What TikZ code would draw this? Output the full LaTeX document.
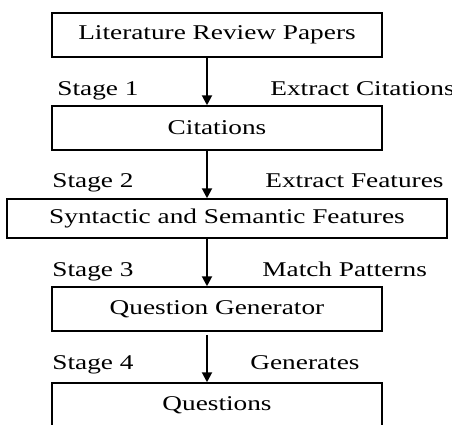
\documentclass[tikz,border=0pt]{standalone}
\usepackage{fontspec}
\setmainfont[FakeStretch=1.3]{Liberation Serif}
\usetikzlibrary{arrows.meta,positioning}

\begin{document}
\begin{tikzpicture}[
    x=0.5pt, y=-0.5pt,
    font=\fontsize{10.5}{12}\selectfont,
    stagebox/.style={rectangle, draw=black, line width=0.75pt,
      minimum width=165pt, minimum height=22pt, inner sep=0pt, align=center},
    lbl/.style={anchor=base west, inner sep=0pt},
    arr/.style={-{Triangle[length=5pt,width=5pt]}, line width=1pt}
  ]
    \useasboundingbox (0,0) rectangle (452,425);
    \coordinate (ax) at (207,0);

    \node[stagebox] (papers) at (217,35) {Literature Review Papers};
    \node[stagebox] (cites) at (217,128) {Citations};
    \node[stagebox, minimum width=220pt, minimum height=19.5pt] (feats) at (227,218.5) {Syntactic and Semantic Features};
    \node[stagebox] (qgen) at (217,309) {Question Generator};
    \node[stagebox] (quest) at (217,405) {Questions};

    \node[lbl] (s1) at (57,95) {Stage 1};
    \node[lbl] (t1) at (270,95) {Extract Citations};
    \node[lbl] (s2) at (52,187) {Stage 2};
    \node[lbl] (t2) at (265,187) {Extract Features};
    \node[lbl] (s3) at (52,276) {Stage 3};
    \node[lbl] (t3) at (262,276) {Match Patterns};
    \node[lbl] (s4) at (52,369) {Stage 4};
    \node[lbl] (t4) at (250,369) {Generates};

    \draw[arr] (papers.south -| ax) -- (cites.north -| ax);
    \draw[arr] (cites.south -| ax) -- (feats.north -| ax);
    \draw[arr] (feats.south -| ax) -- (qgen.north -| ax);
    \draw[arr, shorten <=1.5pt] (qgen.south -| ax) -- (quest.north -| ax);
  \end{tikzpicture}
\end{document}
